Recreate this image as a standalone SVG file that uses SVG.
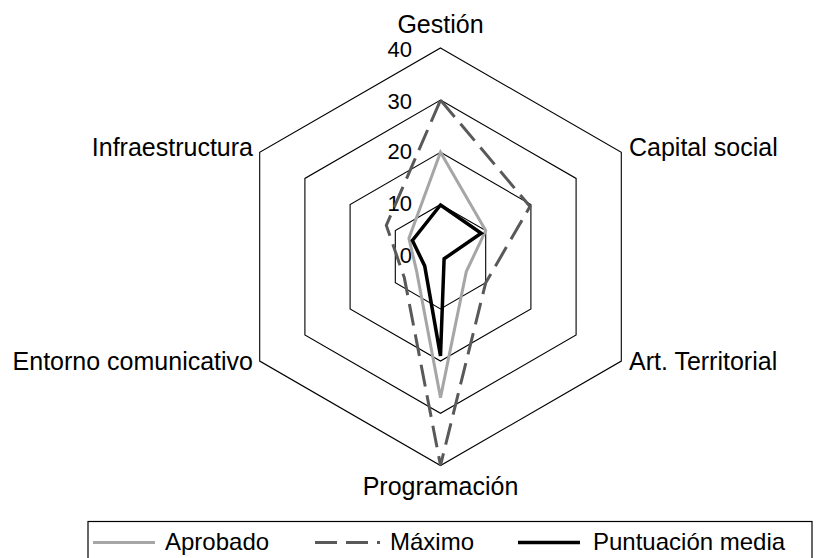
<svg xmlns="http://www.w3.org/2000/svg" width="817" height="558" viewBox="0 0 817 558">
<style>
text{font-family:"Liberation Sans",Arial,sans-serif;fill:#000}
.lbl{font-size:25px}
.leg{font-size:24px}
.num{font-size:22px;text-anchor:end}
.grid{fill:none;stroke:#000;stroke-width:1.1}
.apr{fill:none;stroke:#a6a6a6;stroke-width:3;stroke-linejoin:miter}
.max{fill:none;stroke:#595959;stroke-width:3;stroke-dasharray:22 9}
.med{fill:none;stroke:#000;stroke-width:3.5;stroke-linejoin:miter}
</style>
<rect width="817" height="558" fill="#fff"/>
<g id="grid">
<polygon class="grid" points="440.5,204.5 485.7,230.6 485.7,282.8 440.5,308.9 395.3,282.8 395.3,230.6"/>
<polygon class="grid" points="440.5,152.3 530.9,204.5 530.9,308.9 440.5,361.1 350.1,308.9 350.1,204.5"/>
<polygon class="grid" points="440.5,100.1 576.1,178.4 576.1,335 440.5,413.3 304.9,335 304.9,178.4"/>
<polygon class="grid" points="440.5,47.9 621.3,152.3 621.3,361.1 440.5,465.5 259.7,361.1 259.7,152.3"/>
</g>
<g id="scale">
<text class="num" x="412" y="263">0</text>
<text class="num" x="412" y="210.5">10</text>
<text class="num" x="412" y="159">20</text>
<text class="num" x="412" y="108.5">30</text>
<text class="num" x="412" y="57">40</text>
</g>
<g id="series">
<polygon id="aprobado" class="apr" points="440.5,152.3 485.7,230.6 466.3,271.6 440.5,397.6 416.5,270.6 408.9,238.4"/>
<polygon id="maximo" class="max" points="440.5,100.1 530,206.5 485.7,282.8 440.5,465.5 404.3,277.6 386.3,225.4"/>
<polygon id="media" class="med" points="440.5,205 481.2,233.2 444.1,258.8 440.5,355.9 424.7,265.9 412.4,240.5"/>
</g>
<g id="axis-labels" class="lbl">
<text x="440.5" y="33" text-anchor="middle">Gestión</text>
<text x="629" y="156">Capital social</text>
<text x="629" y="370">Art. Territorial</text>
<text x="440.5" y="495" text-anchor="middle">Programación</text>
<text x="253" y="370" text-anchor="end">Entorno comunicativo</text>
<text x="253" y="156" text-anchor="end">Infraestructura</text>
</g>
<g id="legend">
<rect x="88" y="521.5" width="724" height="50" fill="none" stroke="#000" stroke-width="1.2"/>
<line class="apr" x1="93" y1="542.5" x2="155" y2="542.5"/>
<text class="leg" x="165" y="550">Aprobado</text>
<line class="max" x1="315" y1="542.5" x2="380" y2="542.5"/>
<text class="leg" x="390" y="550">Máximo</text>
<line class="med" x1="518" y1="542.5" x2="580" y2="542.5"/>
<text class="leg" x="593" y="550">Puntuación media</text>
</g>
</svg>
